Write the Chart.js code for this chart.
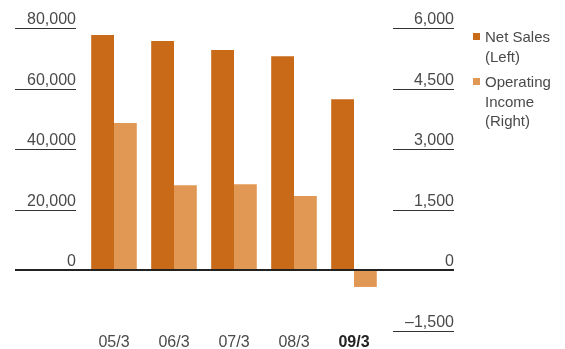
<!DOCTYPE html>
<html>
<head>
<meta charset="utf-8">
<script src="https://cdn.jsdelivr.net/npm/chart.js@4"></script>
<style>
  html, body { margin: 0; padding: 0; background: #fff; }
  #wrap { position: relative; width: 565px; height: 349px; }
  canvas { position: absolute; left: 0; top: 0; }
  .legend { position: absolute; left: 473px; font: 15px "Liberation Sans", Arial, sans-serif; line-height: 19.5px; color: #4a4a4a; }
  .legend .sw { position: absolute; left: 0; top: 6px; width: 7px; height: 7px; }
  .legend .tx { margin-left: 12px; }
</style>
</head>
<body>
<div id="wrap">
  <canvas id="chart" width="565" height="349"></canvas>
  <div class="legend" style="top:27px"><span class="sw" style="background:#c96a18"></span><div class="tx">Net Sales<br>(Left)</div></div>
  <div class="legend" style="top:72px"><span class="sw" style="background:#e29855"></span><div class="tx">Operating<br>Income<br>(Right)</div></div>
</div>
<script>
// fiscal years (bold = latest)
const categories = ['05/3', '06/3', '07/3', '08/3', '09/3'];
const boldIndex = 4;

// Net Sales, left axis
const netSales = [77700, 75700, 72700, 70700, 56500];
// Operating Income, right axis
const opIncome = [3650, 2110, 2130, 1840, -410];

const leftTicks = [80000, 60000, 40000, 20000, 0];
const leftTickLabels = ['80,000', '60,000', '40,000', '20,000', '0'];
const rightTicks = [6000, 4500, 3000, 1500, 0, -1500];
const rightTickLabels = ['6,000', '4,500', '3,000', '1,500', '0', '\u20131,500'];

const FONT = '"Liberation Sans", Arial, sans-serif';

// tick labels sit above short rules outside the plot, like the printed report
const axisRules = {
  id: 'axisRules',
  afterDatasetsDraw(chart) {
    const ctx = chart.ctx;
    const yl = chart.scales.y, yr = chart.scales.y1, x = chart.scales.x;
    ctx.save();
    ctx.font = '16px ' + FONT;
    ctx.fillStyle = '#4a4a4a';
    ctx.strokeStyle = '#333';
    ctx.lineWidth = 1;
    ctx.textAlign = 'right';
    ctx.textBaseline = 'alphabetic';

    leftTicks.forEach((v, i) => {
      const py = Math.round(yl.getPixelForValue(v)) + 0.5;
      if (v !== 0) {
        ctx.beginPath(); ctx.moveTo(15, py); ctx.lineTo(76, py); ctx.stroke();
      }
      ctx.fillText(leftTickLabels[i], 76, py - 5);
    });
    rightTicks.forEach((v, i) => {
      const py = Math.round(yr.getPixelForValue(v)) + 0.5;
      if (v !== 0) {
        ctx.beginPath(); ctx.moveTo(393, py); ctx.lineTo(454, py); ctx.stroke();
      }
      ctx.fillText(rightTickLabels[i], 454, py - 5);
    });

    // zero line across the whole width
    const zy = Math.round(yl.getPixelForValue(0));
    ctx.strokeStyle = '#222';
    ctx.lineWidth = 2;
    ctx.beginPath(); ctx.moveTo(15, zy); ctx.lineTo(454, zy); ctx.stroke();

    ctx.textAlign = 'center';
    categories.forEach((c, i) => {
      ctx.font = (i === boldIndex ? 'bold 16px ' : '16px ') + FONT;
      ctx.fillStyle = i === boldIndex ? '#222' : '#4a4a4a';
      ctx.fillText(c, x.getPixelForValue(i), 347);
    });
    ctx.restore();
  }
};

new Chart(document.getElementById('chart'), {
  type: 'bar',
  data: {
    labels: categories,
    datasets: [{
      label: 'Net Sales (Left)',
      data: netSales,
      backgroundColor: '#c96a18',
      yAxisID: 'y'
    }, {
      label: 'Operating Income (Right)',
      data: opIncome,
      backgroundColor: '#e29855',
      yAxisID: 'y1'
    }]
  },
  options: {
    responsive: false,
    animation: false,
    devicePixelRatio: 1,
    layout: { padding: { top: 28, bottom: 18, left: 84, right: 181 } },
    datasets: { bar: { categoryPercentage: 0.76, barPercentage: 1.0 } },
    plugins: { legend: { display: false }, tooltip: { enabled: false } },
    scales: {
      x: { display: false },
      y: { display: false, min: -20000, max: 80000 },
      y1: { display: false, position: 'right', min: -1500, max: 6000 }
    }
  },
  plugins: [axisRules]
});
</script>
</body>
</html>
